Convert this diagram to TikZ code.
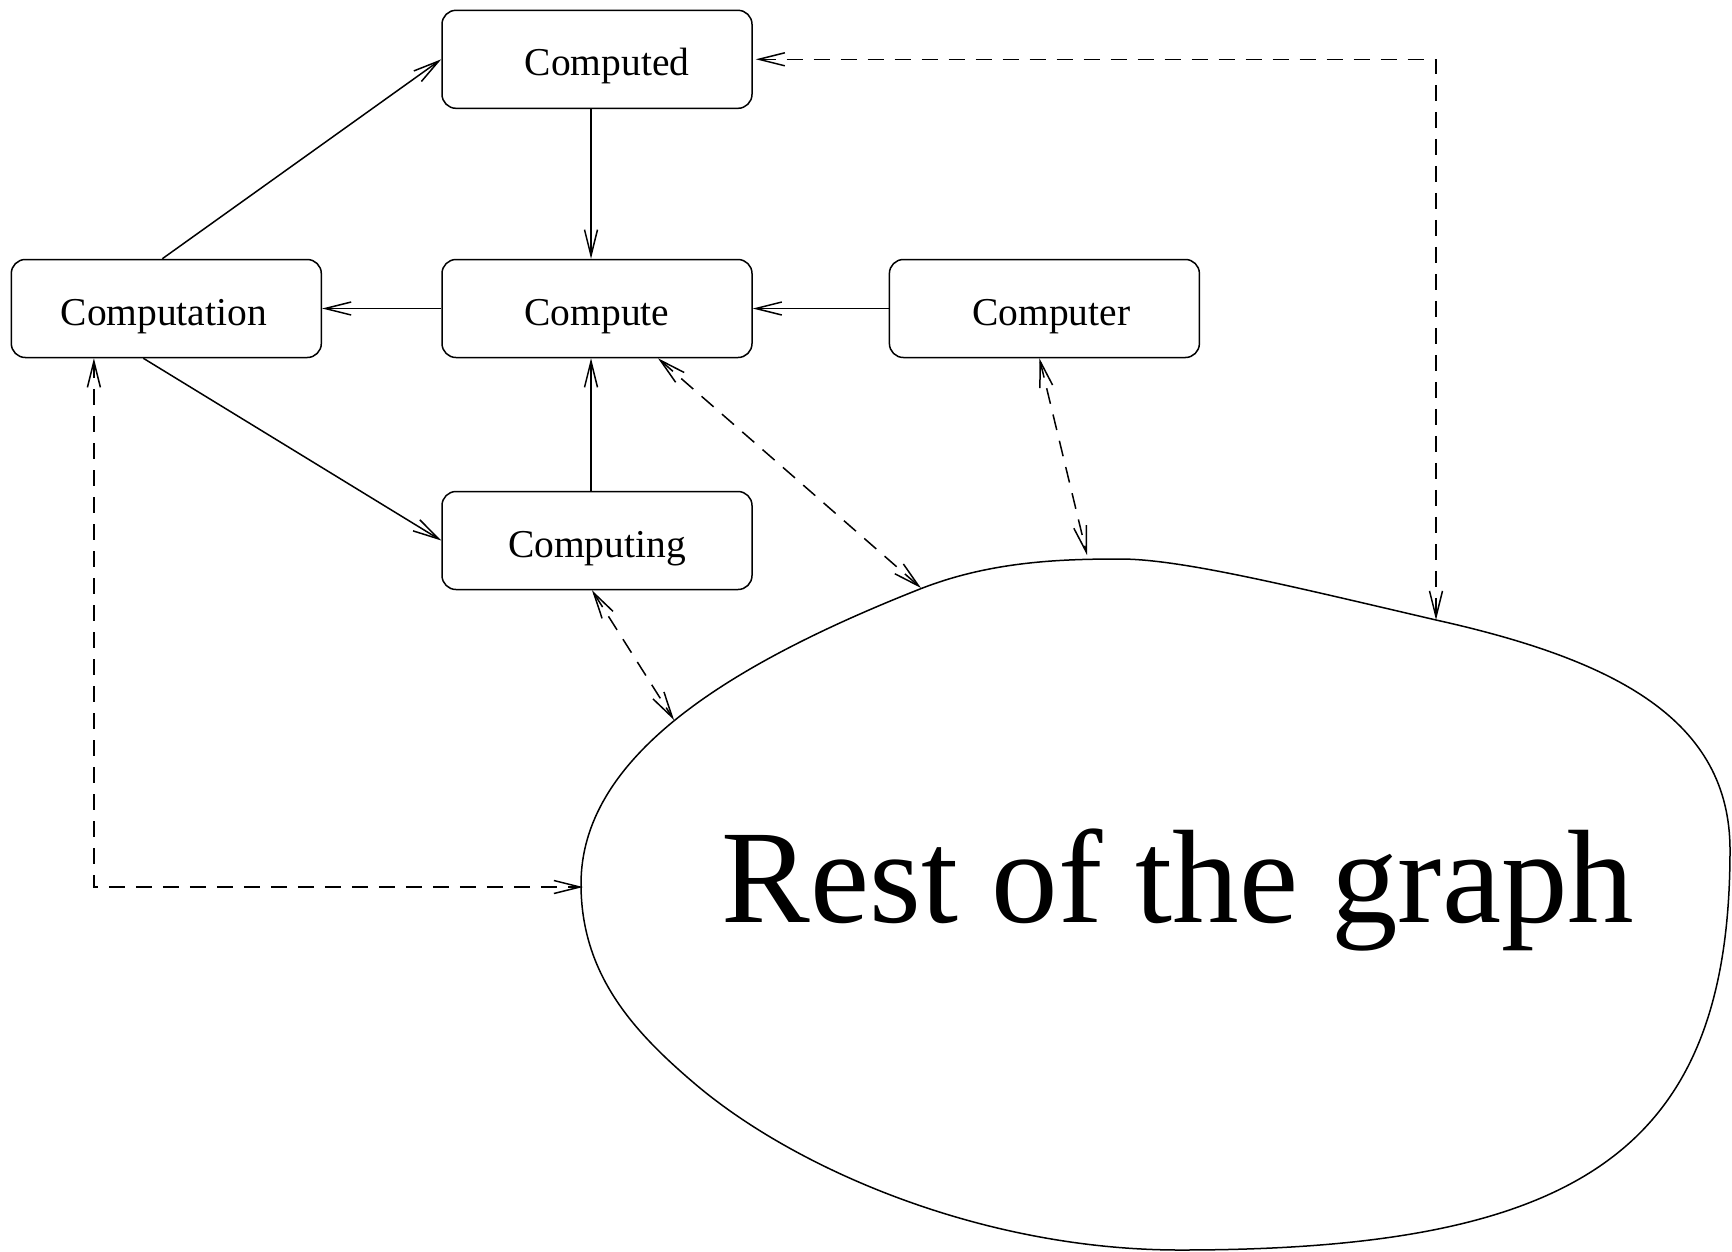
\documentclass[tikz,border=0pt]{standalone}
\usepackage{fontspec}
\setmainfont{Liberation Serif}
\usetikzlibrary{arrows.meta}
\begin{document}
\begin{tikzpicture}[x=1pt,y=-1pt,
  >={Straight Barb[length=26pt,width=13pt]},
  every path/.style={line width=1.5pt},
  box/.style={draw, line width=1.5pt, rounded corners=14pt, minimum width=310pt,
    minimum height=98pt, inner sep=0pt, text height=33pt, text depth=0pt,
    font=\fontsize{39.5}{45}\selectfont},
  solidarrow/.style={->, line width=1.5pt},
  dasharrow/.style={<->, line width=1.5pt, dash pattern=on 16pt off 11pt},
  blob/.style={draw, line width=1.5pt}]
\useasboundingbox (0,0) rectangle (1732,1251);

% boxes
\node[box] (cd) at (597,59.3)    {\hspace*{20pt}Computed};
\node[box] (cn) at (166.3,308.5) {Computation\hspace*{5pt}};
\node[box] (ce) at (597,308.5)   {Compute};
\node[box] (cr) at (1044.4,308.5){\hspace*{14pt}Computer};
\node[box] (ci) at (597,540.5)   {Computing};

% rest of the graph
\draw[blob] (581,884)
  .. controls (581,760) and (720,668) .. (920,589)
  .. controls (990,561.4) and (1060,559) .. (1120,559)
  .. controls (1180,559) and (1286,585) .. (1436,620)
  .. controls (1616,660) and (1730,720) .. (1730,850)
  .. controls (1730,1150) and (1580,1250) .. (1180,1250)
  .. controls (980,1250) and (792.8,1167.5) .. (694,1083)
  .. controls (633,1031) and (581,974) .. cycle;
\node[anchor=base, font=\fontsize{133}{150}\selectfont, inner sep=0pt] (rest) at (1178,922) {Rest of the graph};

\coordinate (bL) at (583,887);
\coordinate (bCi) at (674,720);
\coordinate (bC) at (921,588);
\coordinate (bR) at (1087,555);
\coordinate (bD) at (1436,620);

% solid connectors
\draw[solidarrow] ([xshift=-4pt]cn.north) -- (cd.west);
\draw[solidarrow] ([xshift=-6pt]cd.south) -- ([xshift=-6pt]ce.north);
\draw[solidarrow] (ce.west) -- (cn.east);
\draw[solidarrow] (cr.west) -- (ce.east);
\draw[solidarrow] ([xshift=-6pt]ci.north) -- ([xshift=-6pt]ce.south);
\draw[solidarrow] ([xshift=-23pt]cn.south) -- (ci.west);

% dashed connectors
\draw[dasharrow] ([xshift=61pt]ce.south) -- (bC);
\draw[dasharrow] ([xshift=-5pt]cr.south) -- (bR);
\draw[dasharrow] ([xshift=-5pt]ci.south) -- (bCi);
\draw[dasharrow] ([xshift=-72.4pt]cn.south) |- (bL);
\draw[dasharrow] ([xshift=3pt]cd.east) -| (bD);
\end{tikzpicture}
\end{document}
